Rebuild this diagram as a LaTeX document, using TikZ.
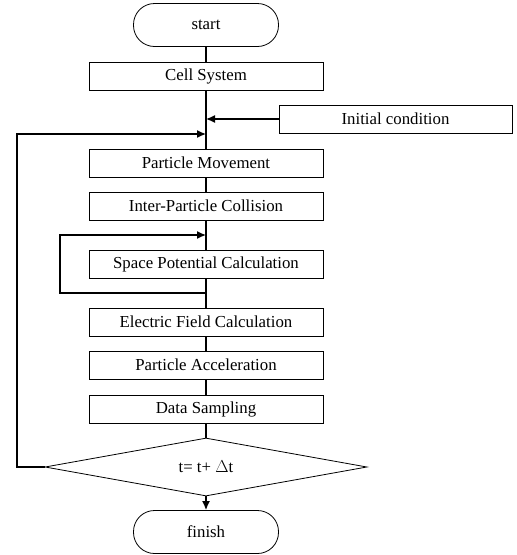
\documentclass[tikz,border=0pt]{standalone}
\usepackage{fontspec}
\setmainfont{Liberation Serif}
\usetikzlibrary{shapes.geometric,arrows.meta}
\begin{document}
\begin{tikzpicture}[x=1pt,y=-1pt,
  txt/.style={font=\fontsize{16.8}{19}\selectfont},
  proc/.style={draw,line width=0.8pt,minimum width=234pt,minimum height=28pt,inner sep=0pt,txt},
  term/.style={draw,line width=0.8pt,rounded corners=21pt,minimum width=145pt,minimum height=43pt,inner sep=0pt,txt},
  conn/.style={line width=1.3pt},
  arr/.style={conn,-{Latex[length=9pt,width=8pt]}}]
\useasboundingbox (0,0) rectangle (517,555);
\node[term] (start) at (206,25) {start};
\node[proc] (cell) at (206,76) {Cell System};
\node[proc,minimum width=233pt] (init) at (395.5,119) {Initial condition};
\node[proc] (move) at (206,163) {Particle Movement};
\node[proc] (coll) at (206,206) {Inter-Particle Collision};
\node[proc] (space) at (206,264) {Space Potential Calculation};
\node[proc] (elec) at (206,322) {Electric Field Calculation};
\node[proc] (acc) at (206,365) {Particle Acceleration};
\node[proc] (data) at (206,409) {Data Sampling};
\node[draw,line width=0.8pt,diamond,aspect=5.55,minimum width=322pt,minimum height=58pt,inner sep=0pt,txt] (dia) at (206,467) {t= t+ $\Delta$t};
\node[term] (fin) at (206,532) {finish};
\coordinate (j1) at (206,119);
\coordinate (j2) at (206,134);
\coordinate (j3) at (206,235);
\coordinate (j4) at (206,293);
\draw[conn] (start) -- (cell);
\draw[conn] (cell) -- (move);
\draw[arr] (init) -- (j1);
\draw[arr] (dia.west) -- (17,467) -- (17,134) -- (j2);
\draw[conn] (move) -- (coll);
\draw[conn] (coll) -- (space);
\draw[arr] (j4) -- (60,293) -- (60,235) -- (j3);
\draw[conn] (space) -- (elec);
\draw[conn] (elec) -- (acc);
\draw[conn] (acc) -- (data);
\draw[conn] (data) -- (dia);
\draw[arr] (dia) -- (fin);
\end{tikzpicture}
\end{document}
